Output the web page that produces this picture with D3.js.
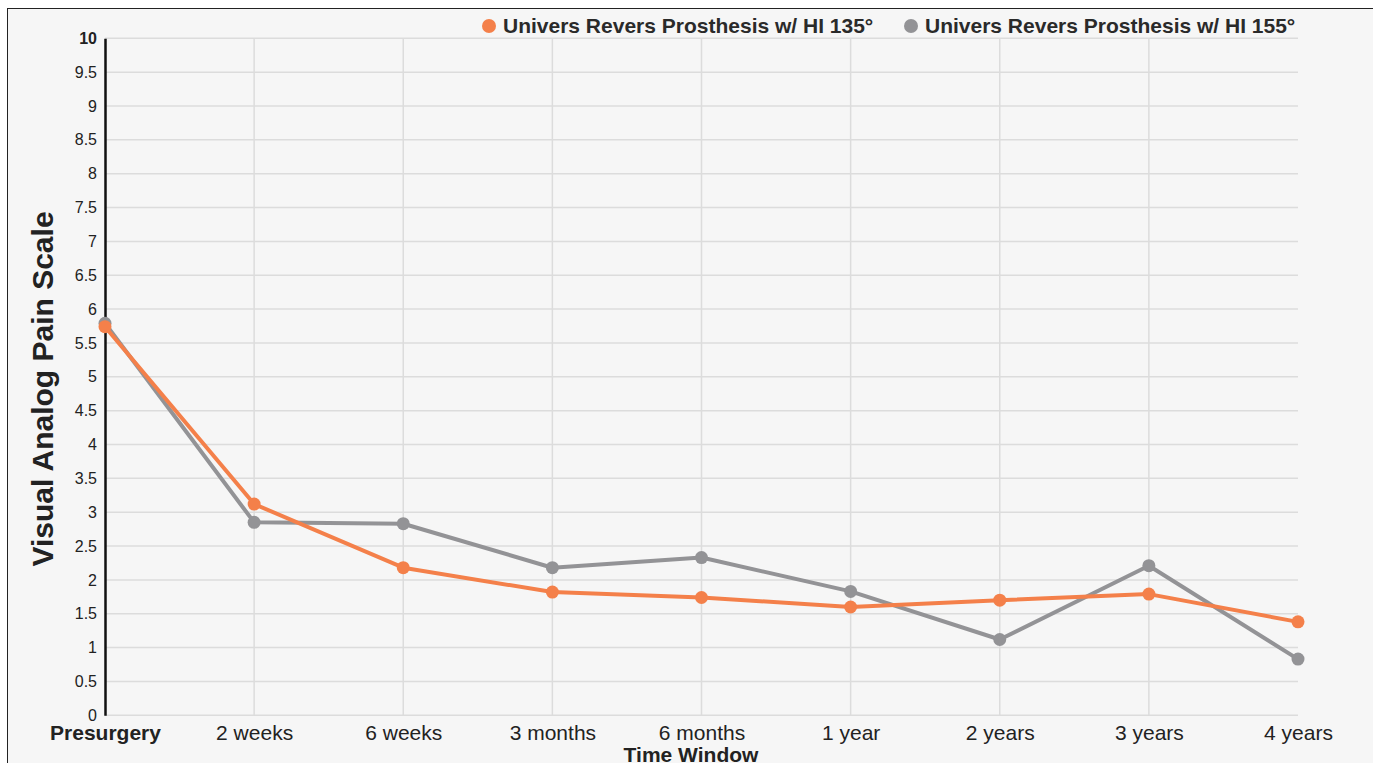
<!DOCTYPE html>
<html>
<head>
<meta charset="utf-8">
<script src="https://cdn.jsdelivr.net/npm/d3@7"></script>
<style>
  html, body { margin: 0; padding: 0; background: #fff; }
  svg { display: block; font-family: "Liberation Sans", Arial, Helvetica, sans-serif; }
</style>
</head>
<body>
<svg id="chart" width="1373" height="763"></svg>
<script>
// chart data
var categories = ['Presurgery', '2 weeks', '6 weeks', '3 months', '6 months', '1 year', '2 years', '3 years', '4 years'];
var series135 = [5.74, 3.12, 2.18, 1.82, 1.74, 1.6, 1.7, 1.79, 1.38];
var series155 = [5.79, 2.85, 2.83, 2.18, 2.33, 1.83, 1.12, 2.21, 0.83];
var seriesNames = ['Univers Revers Prosthesis w/ HI 135°', 'Univers Revers Prosthesis w/ HI 155°'];
var yTicks = [0, 0.5, 1, 1.5, 2, 2.5, 3, 3.5, 4, 4.5, 5, 5.5, 6, 6.5, 7, 7.5, 8, 8.5, 9, 9.5, 10];

var colors = ['#f4804a', '#939396'];

drawChart();

function drawChart() {
    var svg = d3.select('#chart'),
        left = 105, right = 1298, plotTop = 38.3, plotBottom = 715.3;

    // frame
    svg.append('rect')
        .attr('x', 7.5).attr('y', 8.5)
        .attr('width', 1380).attr('height', 780)
        .attr('fill', '#f6f6f6')
        .attr('stroke', '#222').attr('stroke-width', 1);

    var x = d3.scalePoint().domain(categories).range([left, right]),
        y = d3.scaleLinear().domain([0, 10]).range([plotBottom, plotTop]);

    // horizontal grid
    svg.append('g').selectAll('line').data(yTicks)
        .enter().append('line')
        .attr('x1', left).attr('x2', right)
        .attr('y1', function (d) { return y(d); })
        .attr('y2', function (d) { return y(d); })
        .attr('stroke', '#dcdcdc').attr('stroke-width', 1.5);

    // vertical grid (skip first and last)
    svg.append('g').selectAll('line').data(categories.slice(1, -1))
        .enter().append('line')
        .attr('x1', function (d) { return x(d); })
        .attr('x2', function (d) { return x(d); })
        .attr('y1', plotTop).attr('y2', plotBottom)
        .attr('stroke', '#dcdcdc').attr('stroke-width', 1.5);

    // y axis
    var yAxis = svg.append('g')
        .attr('transform', 'translate(' + left + ',0)')
        .call(d3.axisLeft(y).tickValues(yTicks).tickSize(0).tickPadding(8).tickFormat(d3.format('')));
    yAxis.select('.domain').attr('stroke', '#111').attr('stroke-width', 2.5);
    yAxis.selectAll('text')
        .attr('font-size', 16).attr('fill', '#222')
        .attr('font-family', '"Liberation Sans", Arial, sans-serif')
        .attr('font-weight', function (d) { return d === 10 ? 'bold' : 'normal'; });

    // x axis
    var xAxis = svg.append('g')
        .attr('transform', 'translate(0,' + plotBottom + ')')
        .call(d3.axisBottom(x).tickSize(0).tickPadding(10));
    xAxis.select('.domain').remove();
    xAxis.selectAll('text')
        .attr('font-size', 21).attr('fill', '#222')
        .attr('font-family', '"Liberation Sans", Arial, sans-serif')
        .attr('font-weight', function (d, i) { return i === 0 ? 'bold' : 'normal'; });

    // axis titles
    svg.append('text')
        .attr('transform', 'translate(53,389) rotate(-90)')
        .attr('text-anchor', 'middle')
        .attr('font-size', 30).attr('font-weight', 'bold').attr('fill', '#222')
        .text('Visual Analog Pain Scale');

    svg.append('text')
        .attr('x', 691).attr('y', 762)
        .attr('text-anchor', 'middle')
        .attr('font-size', 21).attr('font-weight', 'bold').attr('fill', '#222')
        .text('Time Window');

    // lines and points, grey first so orange sits on top
    var line = d3.line()
        .x(function (d, i) { return x(categories[i]); })
        .y(function (d) { return y(d); });

    var order = [{vals: series155, c: colors[1]}, {vals: series135, c: colors[0]}];

    order.forEach(function (s) {
        svg.append('path')
            .datum(s.vals)
            .attr('d', line)
            .attr('fill', 'none')
            .attr('stroke', s.c).attr('stroke-width', 4)
            .attr('stroke-linejoin', 'round');
    });
    order.forEach(function (s) {
        svg.append('g').selectAll('circle').data(s.vals)
            .enter().append('circle')
            .attr('cx', function (d, i) { return x(categories[i]); })
            .attr('cy', function (d) { return y(d); })
            .attr('r', 6.5)
            .attr('fill', s.c);
    });

    // legend
    var legendX = [489, 911];
    seriesNames.forEach(function (name, i) {
        svg.append('circle')
            .attr('cx', legendX[i]).attr('cy', 26).attr('r', 7)
            .attr('fill', colors[i]);
        svg.append('text')
            .attr('x', legendX[i] + 14).attr('y', 33)
            .attr('font-size', 21).attr('font-weight', 'bold').attr('fill', '#2a2a2a')
            .text(name);
    });
}
</script>
</body>
</html>
